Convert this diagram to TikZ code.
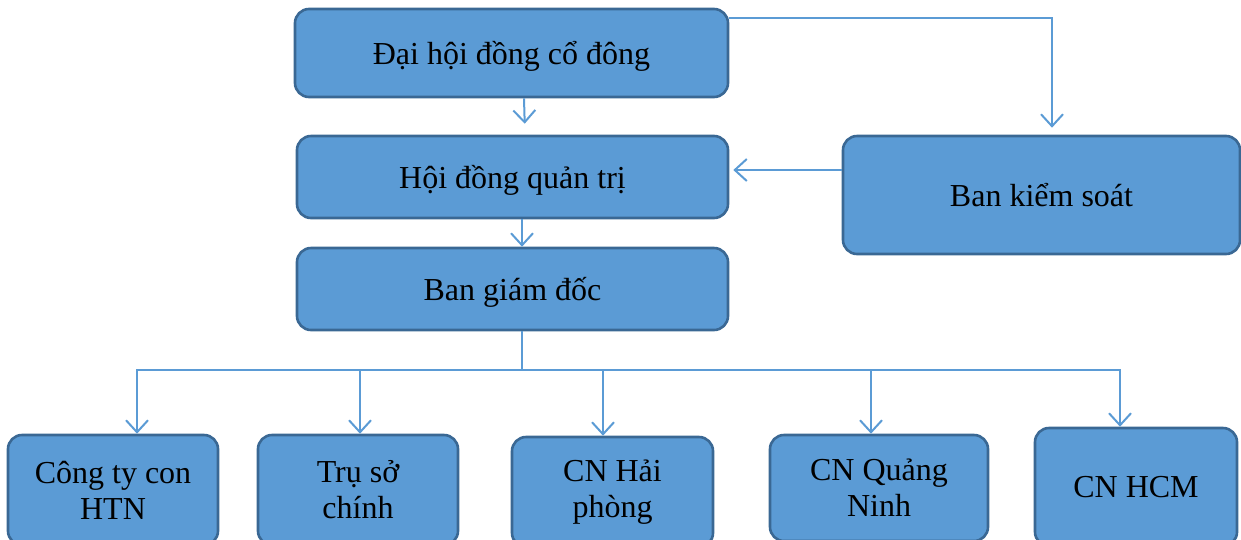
\documentclass[tikz,border=0pt]{standalone}
\usepackage{fontspec}
\setmainfont{Liberation Serif}
\usetikzlibrary{arrows.meta}
\definecolor{boxblue}{HTML}{5B9BD5}
\definecolor{boxline}{HTML}{3A6894}
\definecolor{linkblue}{HTML}{5B9BD5}
\newcommand{\boxfont}{\fontsize{32}{36}\selectfont}

\begin{document}
\begin{tikzpicture}[x=1pt,y=-1pt]
                \useasboundingbox (0,0) rectangle (1241,539);
                \begin{scope}[every node/.style={rectangle,rounded corners=14pt,draw=boxline,line width=2.6pt,fill=boxblue,align=center,font=\boxfont,inner sep=0pt}]
                    \node[minimum width=433pt,minimum height=88pt,text depth=0pt] (dhdcd) at (511.5,53) {Đại hội đồng cổ đông};
                    \node[minimum width=431pt,minimum height=82pt,text depth=0pt] (hdqt) at (512.5,177) {Hội đồng quản trị};
                    \node[minimum width=431pt,minimum height=82pt,text depth=0pt] (bgd) at (512.5,289) {Ban giám đốc};
                    \node[minimum width=397pt,minimum height=118pt] (bks) at (1041.5,195) {Ban kiểm soát};
                    \node[minimum width=210pt,minimum height=110pt] (ctc) at (113,490) {Công ty con\\HTN};
                    \node[minimum width=200pt,minimum height=110pt] (tsc) at (358,490) {Trụ sở\\chính};
                    \node[minimum width=201pt,minimum height=110pt] (cnhp) at (612.5,492) {CN Hải\\phòng};
                    \node[minimum width=218pt,minimum height=106pt] (cnqn) at (879,488) {CN Quảng\\Ninh};
                    \node[minimum width=202pt,minimum height=118pt] (cnhcm) at (1136,487) {CN HCM};
                \end{scope}

                \coordinate (split) at ([xshift=9.5pt]bgd.south |- 0,370);

                \begin{scope}[>={Straight Barb[length=12pt,width=22pt]},
                    every edge/.style={draw=linkblue,line width=2pt}]
                    \path [->] ([xshift=12.5pt]dhdcd.south) edge [shorten >=11pt] ([xshift=12.5pt]hdqt.north);
                    \path [->] ([xshift=9.5pt]hdqt.south) edge ([xshift=9.5pt]bgd.north);
                    \path [->] ([yshift=35pt]dhdcd.east) edge [to path={-| (\tikztotarget)},shorten >=7pt] ([xshift=10.5pt]bks.north);
                    \path [->] ([yshift=25pt]bks.west) edge [shorten >=4pt] ([yshift=25pt]bks.west -| hdqt.east);

                    \path ([xshift=9.5pt]bgd.south) edge (split);
                    \path [->] (split) edge [to path={-| (\tikztotarget)}] ([xshift=24pt]ctc.north);
                    \path [->] (split) edge [to path={-| (\tikztotarget)}] ([xshift=2pt]tsc.north);
                    \path [->] (split) edge [to path={-| (\tikztotarget)}] ([xshift=-9.5pt]cnhp.north);
                    \path [->] (split) edge [to path={-| (\tikztotarget)}] ([xshift=-8pt]cnqn.north);
                    \path [->] (split) edge [to path={-| (\tikztotarget)}] ([xshift=-16pt]cnhcm.north);
                \end{scope}
            \end{tikzpicture}
\end{document}
